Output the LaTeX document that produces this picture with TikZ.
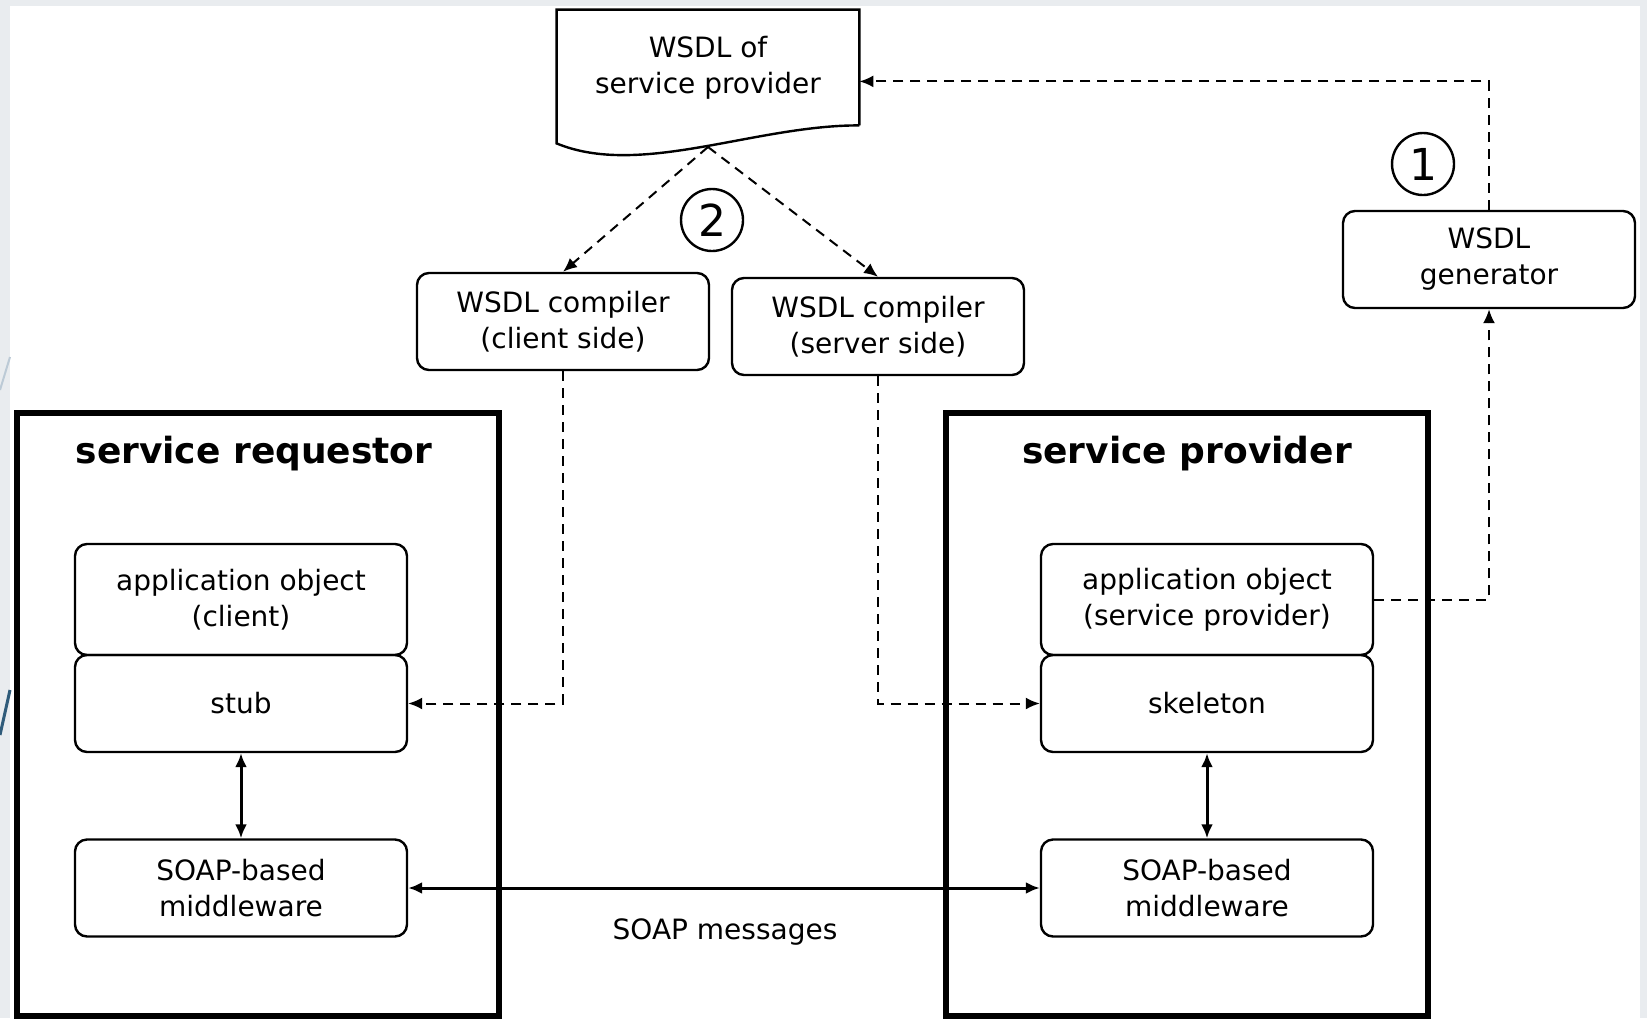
\documentclass[tikz,border=0pt]{standalone}
\usepackage{fontspec}
\setmainfont{DejaVu Sans}
\usepackage{xcolor}
\usetikzlibrary{positioning,calc,arrows.meta}
\definecolor{slidegrey}{HTML}{E9ECEF}
\definecolor{slideblue}{HTML}{2F5B7A}
\definecolor{slidelight}{HTML}{BCCAD6}

\tikzset{
  part/.style={draw, rounded corners=6pt, line width=1.2pt, align=center, inner sep=0pt,
    font=\fontsize{14}{18}\selectfont},
  tool/.style={part, minimum width=146pt, minimum height=48.5pt},
  layer/.style={part, minimum width=166pt, minimum height=48.5pt},
  side/.style={draw, line width=3pt, minimum width=241pt, minimum height=301.5pt},
  sidetitle/.style={font=\fontsize{18}{22}\selectfont\bfseries},
  stepno/.style={draw, circle, line width=1.2pt, minimum size=31pt, inner sep=0pt,
    font=\fontsize{22}{24}\selectfont},
  gen/.style={line width=1pt, dash pattern=on 5pt off 3.5pt, -{Latex[length=7pt,width=6pt]}},
  call/.style={line width=1.5pt, {Latex[length=7pt,width=6pt]}-{Latex[length=7pt,width=6pt]}},
}

\begin{document}
\begin{tikzpicture}[x=0.5pt, y=-0.5pt]
    \useasboundingbox (0,0) rectangle (1647,1018);
    \fill[slidegrey] (0,0) rectangle (1647,1018);
    \fill[white] (10,6) rectangle (1640,1018);
    \draw[slidelight, line width=1pt] (0,390) -- (10,357);
    \draw[slideblue, line width=1.5pt] (0,735) -- (10,690);

    \node [side] (req) at (257.5,714.5) {};
    \node [side] (prov) at (1187,714.5) {};
    \node [sidetitle] (reqtitle) at (254,454) {service requestor};
    \node [sidetitle] (provtitle) at (1187,454) {service provider};

    \node [inner sep=0pt, minimum width=151pt, minimum height=57.5pt, align=center,
      font=\fontsize{14}{18}\selectfont] (wsdl) at (708,67.5) {WSDL of\\service provider};
    \draw [line width=1.2pt] (wsdl.south east) -- (wsdl.north east) -- (wsdl.north west)
      -- ($(wsdl.south west)+(0,18)$) .. controls (640,178) and (755,125) .. (wsdl.south east);
    \coordinate (docbot) at (708,147);

    \node [tool] (gen) at (1489,259.5) {WSDL\\generator};
    \node [tool] (compC) at (563,321.5) {WSDL compiler\\(client side)};
    \node [tool] (compS) at (878,326.5) {WSDL compiler\\(server side)};
    \node [stepno] (one) at (1423,164) {1};
    \node [stepno] (two) at (712,220) {2};

    \node [layer, minimum height=55.5pt] (appC) at (241,599.5) {application object\\(client)};
    \node [layer, below=-1.2pt of appC] (stub) {stub};
    \node [layer] (mwC) at (241,888) {SOAP-based\\middleware};

    \node [layer, minimum height=55.5pt] (appS) at (1207,599.5) {application object\\(service provider)};
    \node [layer, below=-1.2pt of appS] (skel) {skeleton};
    \node [layer] (mwS) at (1207,888) {SOAP-based\\middleware};

    \node [font=\fontsize{14}{18}\selectfont] (soapmsg) at (725,932) {SOAP messages};

    \draw [gen] (gen.north) |- ($(wsdl.north east)!0.62!(wsdl.south east)$);
    \draw [gen] (appS.east) -| (gen.south);
    \draw [gen] (docbot) -- (compC.north);
    \draw [gen] (docbot) -- (compS.north);
    \draw [gen] (compC.south) |- (stub.east);
    \draw [gen] (compS.south) |- (skel.west);
    \draw [call] (stub) -- (mwC);
    \draw [call] (skel) -- (mwS);
    \draw [call] (mwC) -- (mwS);
\end{tikzpicture}
\end{document}
